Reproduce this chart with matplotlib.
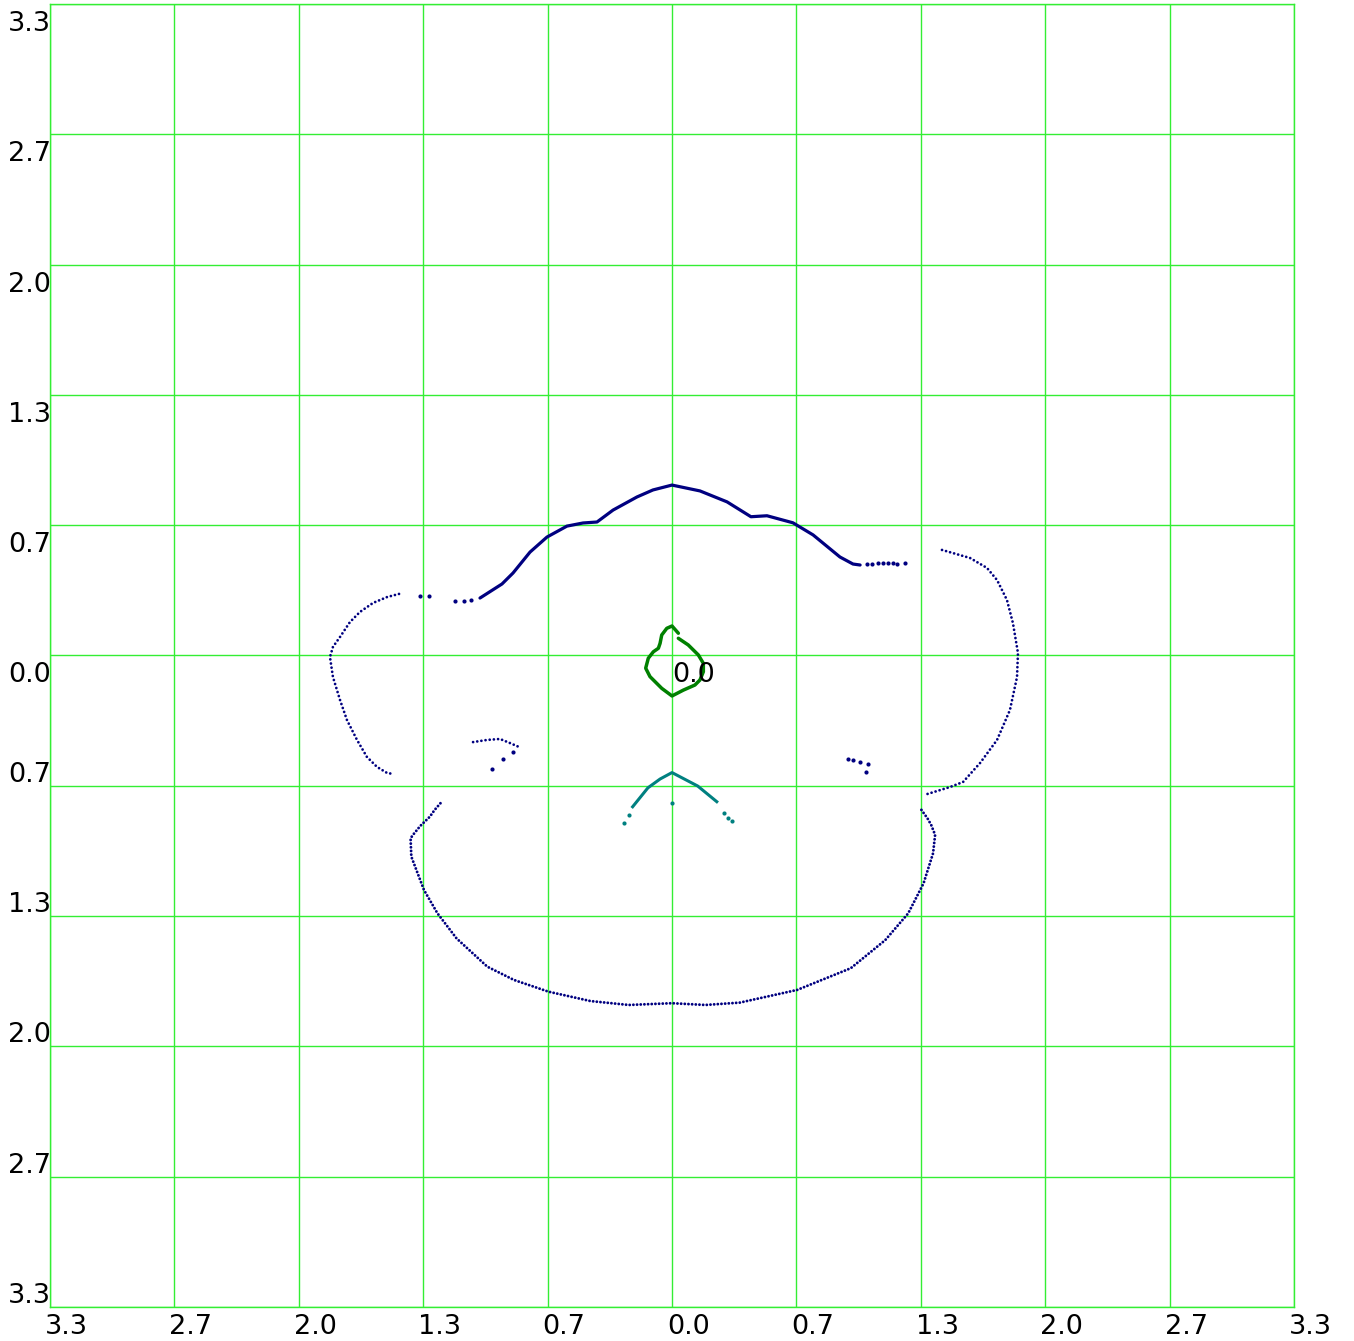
import numpy as np
import matplotlib.pyplot as plt

# projected outline, in plot units
head_top_x = [-1.029, -0.911, -0.852, -0.761, -0.670, -0.563, -0.477, -0.402, -0.316, -0.188,
              -0.102, 0.0, 0.150, 0.295, 0.423, 0.509, 0.648, 0.756, 0.900, 0.970, 1.008]
head_top_y = [0.294, 0.366, 0.422, 0.529, 0.606, 0.662, 0.678, 0.683, 0.744, 0.811,
              0.847, 0.872, 0.842, 0.786, 0.710, 0.715, 0.679, 0.617, 0.504, 0.468, 0.463]

top_dots_x = [-1.350, -1.302, -1.163, -1.115, -1.077,
              1.045, 1.072, 1.104, 1.131, 1.158, 1.185, 1.206, 1.249]
top_dots_y = [0.304, 0.304, 0.279, 0.279, 0.282,
              0.468, 0.468, 0.473, 0.473, 0.473, 0.473, 0.468, 0.473]

ear_l_x = [-1.463, -1.527, -1.602, -1.672, -1.726, -1.779, -1.817, -1.833, -1.817, -1.779,
           -1.742, -1.688, -1.635, -1.581, -1.527, -1.495]
ear_l_y = [0.315, 0.299, 0.269, 0.223, 0.171, 0.095, 0.044, -0.008, -0.110, -0.228,
           -0.330, -0.432, -0.519, -0.570, -0.601, -0.606]

ear_r_x = [1.447, 1.506, 1.597, 1.688, 1.742, 1.795, 1.827, 1.854, 1.849, 1.811,
           1.742, 1.651, 1.560, 1.490, 1.367]
ear_r_y = [0.540, 0.524, 0.499, 0.448, 0.386, 0.284, 0.166, 0.013, -0.110, -0.279,
           -0.432, -0.550, -0.647, -0.673, -0.709]

brow_l_x = [-1.066, -0.991, -0.922, -0.868, -0.820]
brow_l_y = [-0.443, -0.432, -0.427, -0.448, -0.468]

eye_dots_x = [-0.852, -0.906, -0.965, 0.943, 0.970, 1.008, 1.050, 1.040]
eye_dots_y = [-0.494, -0.530, -0.581, -0.529, -0.534, -0.545, -0.555, -0.596]

jaw_x = [-1.241, -1.272, -1.298, -1.349, -1.384, -1.401, -1.397, -1.370, -1.329, -1.257,
         -1.155, -0.990, -0.847, -0.662, -0.437, -0.232, 0.0, 0.179, 0.363, 0.671,
         0.958, 1.143, 1.266, 1.348, 1.399, 1.410, 1.389, 1.369, 1.327]
jaw_y = [-0.756, -0.790, -0.825, -0.872, -0.913, -0.935, -1.029, -1.097, -1.200, -1.319,
         -1.447, -1.592, -1.660, -1.720, -1.768, -1.788, -1.779, -1.788, -1.776, -1.711,
         -1.600, -1.456, -1.319, -1.166, -1.012, -0.918, -0.867, -0.833, -0.777]

mouth_x = [-0.211, -0.129, -0.064, 0.0, 0.138, 0.240]
mouth_y = [-0.774, -0.677, -0.632, -0.599, -0.668, -0.748]
mouth_dots_x = [-0.258, -0.232, 0.0, 0.281, 0.302, 0.322]
mouth_dots_y = [-0.859, -0.816, -0.753, -0.804, -0.830, -0.845]

nose_x = [0.034, 0.0, -0.028, -0.055, -0.064, -0.073, -0.100, -0.127, -0.141, -0.118,
          -0.055, 0.0, 0.061, 0.123, 0.150, 0.168, 0.168, 0.141, 0.087, 0.034]
nose_y = [0.114, 0.151, 0.139, 0.105, 0.062, 0.037, 0.019, -0.014, -0.065, -0.108,
          -0.168, -0.207, -0.177, -0.151, -0.125, -0.083, -0.040, 0.003, 0.054, 0.088]

lim = 10.0 / 3
ticks = np.linspace(-lim, lim, 11)
x_labels = ["3.3", "2.7", "2.0", "1.3", "0.7", "0.0", "0.7", "1.3", "2.0", "2.7", "3.3"]
y_labels = ["3.3", "2.7", "2.0", "1.3", "0.7", "0.0", "0.7", "1.3", "2.0", "2.7", "3.3"]

navy = "#000080"
grid_green = "#33ee33"
fs = 19.5

fig = plt.figure(figsize=(13.54, 13.41), dpi=100)
ax = fig.add_axes([50 / 1354, 1 - 1307 / 1341, 1244 / 1354, 1303 / 1341])
ax.set_xlim(-lim, lim)
ax.set_ylim(-lim, lim)
ax.set_xticks([])
ax.set_yticks([])
for s in ax.spines.values():
    s.set_color(grid_green)
    s.set_linewidth(1)
for t in ticks:
    ax.axvline(t, color=grid_green, lw=1, zorder=0)
    ax.axhline(t, color=grid_green, lw=1, zorder=0)

dotted = dict(color=navy, lw=2.0, linestyle=(0, (0.01, 1.5)), dash_capstyle="round")
ax.plot(head_top_x, head_top_y, color=navy, lw=2.3, solid_capstyle="round",
        solid_joinstyle="round")
ax.plot(ear_l_x, ear_l_y, **dotted)
ax.plot(ear_r_x, ear_r_y, **dotted)
ax.plot(jaw_x, jaw_y, color=navy, lw=2.1, linestyle=(0, (0.01, 1.25)),
        dash_capstyle="round")
ax.plot(brow_l_x, brow_l_y, **dotted)
ax.plot(top_dots_x, top_dots_y, "o", color=navy, ms=3, mew=0)
ax.plot(eye_dots_x, eye_dots_y, "o", color=navy, ms=3, mew=0)

ax.plot(mouth_x, mouth_y, color="#008080", lw=2.2, solid_joinstyle="round")
ax.plot(mouth_dots_x, mouth_dots_y, "o", color="#008080", ms=3, mew=0)
ax.plot(nose_x, nose_y, color="#008000", lw=2.5, solid_capstyle="round",
        solid_joinstyle="round")

ax.annotate("0.0", (0, 0), xytext=(0, -7), textcoords="offset pixels",
            fontsize=fs, ha="left", va="top")

for t, lab in zip(ticks, x_labels):
    ax.annotate(lab, (t, 0), xycoords=("data", "axes fraction"), xytext=(-5, -7),
                textcoords="offset pixels", ha="left", va="top", fontsize=fs,
                annotation_clip=False)
for t, lab in zip(ticks[::-1], y_labels):
    if t >= -1e-9:
        va, dy = "top", -7
    else:
        va, dy = "bottom", -2
    ax.annotate(lab, (0, t), xycoords=("axes fraction", "data"), xytext=(1, dy),
                textcoords="offset pixels", ha="right", va=va, fontsize=fs,
                annotation_clip=False)

fig.savefig("out.png", dpi=100)
